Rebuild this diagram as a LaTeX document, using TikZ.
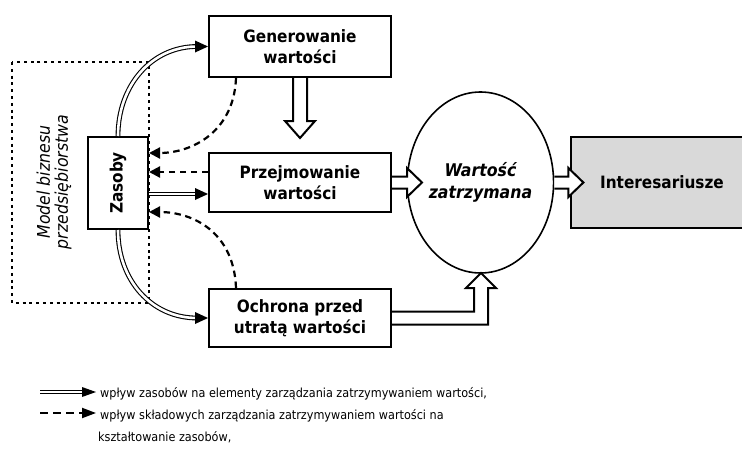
\documentclass[tikz,border=0pt]{standalone}
\usepackage{fontspec}
\IfFontExistsTF{DejaVu Sans Condensed}{\setmainfont{DejaVu Sans Condensed}}{\setmainfont{Liberation Sans}}
\usetikzlibrary{arrows.meta,shapes.geometric,calc}
\begin{document}
\begin{tikzpicture}[x=1pt,y=-1pt,
  box/.style={draw,line width=2pt,minimum width=182pt,inner sep=0pt,align=center,
    font=\bfseries\fontsize{17}{21.5}\selectfont},
  hollow/.style={draw,line width=2pt,fill=white,line join=miter},
  dbl/.style={draw,line width=1.1pt,double,double distance=2.6pt},
  dsh/.style={line width=2.2pt,dash pattern=on 6.5pt off 4.5pt,-{Triangle[length=11pt,width=11pt]}},
  dotbox/.style={line width=2.4pt,dash pattern=on 3pt off 3.8pt},
  legtxt/.style={anchor=base west,inner sep=0pt,font=\fontsize{12.5}{14}\selectfont}]
\useasboundingbox (0,0) rectangle (742,450);

% frame of the business model
\draw[dotbox] (12,62) rectangle (149,303);
\node[rotate=90,align=center,font=\itshape\fontsize{17.5}{18}\selectfont] (mod) at (54,182)
  {Model biznesu\\przedsiębiorstwa};

% boxes
\node[box,minimum height=61pt] (gen) at (300,46.5) {Generowanie\\wartości};
\node[box,minimum height=59pt] (prz) at (300,182.5) {Przejmowanie\\wartości};
\node[box,minimum height=58pt] (och) at (300,318) {Ochrona przed\\utratą wartości};
\node[box,minimum width=60pt,minimum height=92pt] (zas) at (118,183) {\rotatebox{90}{Zasoby}};
\node[ellipse,draw,line width=1.6pt,minimum width=119pt,minimum height=181pt,inner sep=0pt,
  align=center,font=\bfseries\itshape\fontsize{17.5}{22}\selectfont] (ell) at (480.5,182.5)
  {Wartość\\zatrzymana};
\node[box,fill=black!15,minimum height=91pt] (int) at (662,182.5) {Interesariusze};

% double-line influence arrows
\draw[dbl] (zas.north) .. controls +(0,-51) and +(-45,0) .. ([xshift=-11pt]gen.west);
\fill ([xshift=-13pt,yshift=6pt]gen.west) -- (gen.west) -- ([xshift=-13pt,yshift=-6pt]gen.west) -- cycle;
\draw[dbl] (zas.south) .. controls +(0,51) and +(-45,0) .. ([xshift=-11pt]och.west);
\fill ([xshift=-13pt,yshift=6pt]och.west) -- (och.west) -- ([xshift=-13pt,yshift=-6pt]och.west) -- cycle;
\coordinate (m2) at ([yshift=-11.5pt]prz.west);
\draw[dbl] (zas.east |- m2) -- ([xshift=-11pt]m2);
\fill ([xshift=-13pt,yshift=6pt]m2) -- (m2) -- ([xshift=-13pt,yshift=-6pt]m2) -- cycle;

% dashed feedback arrows
\coordinate (d1) at ([yshift=30pt]zas.east);
\draw[dsh] ([xshift=28pt]gen.south west) .. controls +(-2,53) and +(44,0) .. (d1);
\coordinate (m1) at ([yshift=10.5pt]prz.west);
\draw[dsh] (m1) -- (zas.east |- m1);
\coordinate (d3) at ([yshift=-29pt]zas.east);
\draw[dsh] ([xshift=28pt]och.north west) .. controls +(-2,-55) and +(45,0) .. (d3);

% hollow block arrows
\draw[hollow] (gen.south) ++(-7,0) -- ++(0,43) -- ++(-8,0) -- ++(15,17) -- ++(15,-17) -- ++(-8,0) -- ++(0,-43);
\draw[hollow] (prz.east) ++(0,-6) -- ++(15,0) -- ++(0,-8.5) -- ++(15,14.5) -- ++(-15,14.5) -- ++(0,-8.5) -- ++(-15,0);
\draw[hollow] (ell.east) ++(0,-6) -- ++(14,0) -- ++(0,-8.5) -- ++(15,14.5) -- ++(-15,14.5) -- ++(0,-8.5) -- ++(-14,0);
\draw[hollow] (och.east) ++(0,-6.5) -- ++(82,0) -- ++(0,-23.5) -- ++(-8,0) -- ++(15,-15) -- ++(15,15) -- ++(-8,0) -- ++(0,36.5) -- ++(-96,0);

% legend
\coordinate (la1) at (40,392);
\coordinate (la2) at (96,392);
\draw[dbl] (la1) -- ([xshift=-13pt]la2);
\fill ([xshift=-14pt,yshift=5pt]la2) -- (la2) -- ([xshift=-14pt,yshift=-5pt]la2) -- cycle;
\node[legtxt] (t1) at (100,397) {wpływ zasobów na elementy zarządzania zatrzymywaniem wartości,};
\coordinate (lb1) at (40,413);
\coordinate (lb2) at (96,413);
\draw[line width=2pt,dash pattern=on 8pt off 5pt,-{Triangle[length=14pt,width=10pt]}] (lb1) -- (lb2);
\node[legtxt] (t2) at (100,419) {wpływ składowych zarządzania zatrzymywaniem wartości na};
\node[legtxt] (t3) at (98,441) {kształtowanie zasobów,};
\end{tikzpicture}
\end{document}
